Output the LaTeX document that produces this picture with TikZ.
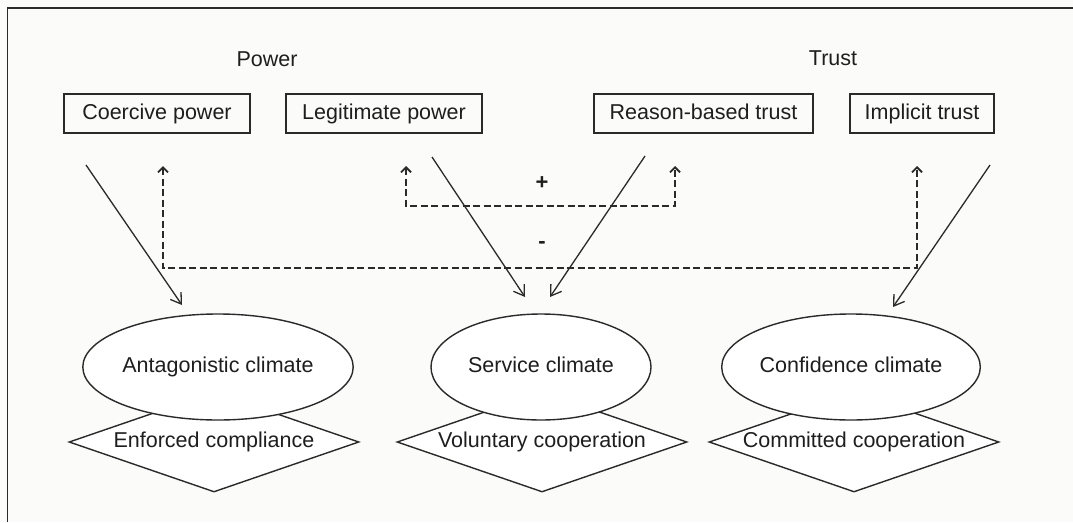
\documentclass[tikz,border=0pt]{standalone}
\usepackage{fontspec}
\setmainfont{Liberation Sans}
\usetikzlibrary{shapes.geometric,arrows.meta}
\definecolor{ink}{HTML}{2A2A2A}
\definecolor{txt}{HTML}{1E1E1E}
\definecolor{bg}{HTML}{FBFBFA}
\begin{document}
\begin{tikzpicture}[x=1pt,y=-1pt,
  font=\fontsize{21.5}{24}\selectfont,
  every node/.style={text=txt, text height=15.5pt, text depth=4.5pt},
  box/.style={draw=ink, line width=1.5pt, minimum height=39pt, inner sep=0pt},
  clim/.style={ellipse, draw=ink, fill=white, line width=1.4pt, minimum width=220pt, minimum height=106pt, inner sep=0pt},
  outc/.style={diamond, draw=ink, fill=white, line width=1.4pt, minimum width=290pt, minimum height=100pt, aspect=2.9, inner sep=0pt},
  link/.style={draw=ink, line width=1.3pt, -{Straight Barb[length=10pt,width=13pt,line width=1.3pt]}},
  fb/.style={draw=ink, line width=2.3pt, dash pattern=on 7pt off 3.5pt,
    {Straight Barb[length=5pt,width=10pt,line width=1.8pt]}-{Straight Barb[length=5pt,width=10pt,line width=1.8pt]}},
  sign/.style={font=\fontsize{22}{24}\selectfont\bfseries, text height=, text depth=}
]
\fill[bg] (0,0) rectangle (1073,522);
\useasboundingbox (0,0) rectangle (1073,522);
\draw[ink, line width=1.8pt] (7.5,522) -- (7.5,8) -- (1073,8);

% headings
\node (power) at (267,61) {Power};
\node (trust) at (833,60) {Trust};

% boxes
\node[box, minimum width=186pt] (coer) at (157,113.5) {Coercive power};
\node[box, minimum width=196pt] (legit) at (384,113.5) {Legitimate power};
\node[box, minimum width=219pt] (reason) at (703.5,113.5) {Reason-based trust};
\node[box, minimum width=144pt] (impl) at (922,113.5) {Implicit trust};

% outcomes (diamonds) then climates (ellipses)
\node[outc] (enf) at (214,442) {Enforced compliance};
\node[outc] (vol) at (542,442) {Voluntary cooperation};
\node[outc] (com) at (854,442) {Committed cooperation};
\node[clim] (ant) at (218,367) {Antagonistic climate};
\node[clim] (serv) at (541,367) {Service climate};
\node[clim] (conf) at (851,367) {Confidence climate};

% solid arrows
\coordinate (c1s) at (86,165);   \coordinate (c1e) at (182,305);
\coordinate (l1s) at (432,157);  \coordinate (l1e) at (525,297);
\coordinate (r1s) at (645,156);  \coordinate (r1e) at (550,297);
\coordinate (i1s) at (990,165);  \coordinate (i1e) at (893,307);
\draw[link] (c1s) -- (c1e);
\draw[link] (l1s) -- (l1e);
\draw[link] (r1s) -- (r1e);
\draw[link] (i1s) -- (i1e);

% dashed feedback arrows
\coordinate (mtl) at (163,166);
\coordinate (mbl) at (163,268);
\coordinate (mbr) at (917,268);
\coordinate (mtr) at (917,166);
\draw[fb] (mtl) -- (mbl) -- (mbr) -- (mtr);
\coordinate (ptl) at (406,166);
\coordinate (pbl) at (406,206);
\coordinate (pbr) at (675,206);
\coordinate (ptr) at (675,166);
\draw[fb] (ptl) -- (pbl) -- (pbr) -- (ptr);

\node[sign] (plus) at (542,183) {+};
\node[sign] (minus) at (542,245) {-};
\end{tikzpicture}
\end{document}
